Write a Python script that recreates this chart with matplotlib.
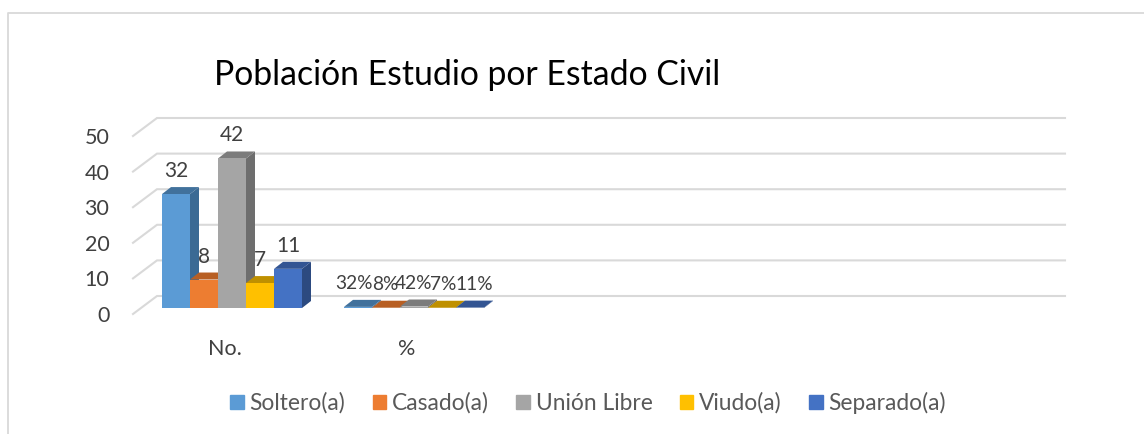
import matplotlib
matplotlib.use("Agg")
import matplotlib.pyplot as plt
from matplotlib.lines import Line2D
from matplotlib.patches import Polygon, Patch

plt.rcParams['font.family'] = ['Lato', 'DejaVu Sans']

groups = ["No.", "%"]
series = ["Soltero(a)", "Casado(a)", "Unión Libre", "Viudo(a)", "Separado(a)"]
no_values = [32, 8, 42, 7, 11]
pct_values = [0.32, 0.08, 0.42, 0.07, 0.11]
pct_labels = ["32%", "8%", "42%", "7%", "11%"]
yticks = [0, 10, 20, 30, 40, 50]
title = "Población Estudio por Estado Civil"

front = ["#5B9BD5", "#ED7D31", "#A5A5A5", "#FFC000", "#4472C4"]
top = ["#41719C", "#B85F23", "#7C7C7C", "#BF9000", "#335593"]
side = ["#3B6A94", "#A85620", "#6E6E6E", "#B08600", "#2C4A80"]

W, H = 1144, 434
fig = plt.figure(figsize=(W / 100, H / 100), dpi=100, facecolor="white")
L, R, T, B = 133, 1065, 136, 314
ax = fig.add_axes([L / W, (H - B) / H, (R - L) / W, (B - T) / H])
PXX, PXY = 182.0, (B - T) / 50.0
ax.set_xlim((L - 225) / PXX, (R - 225) / PXX)
ax.set_ylim(0, 50)
for s in ax.spines.values():
    s.set_visible(False)
ax.patch.set_alpha(0)

# outer frame
fig.add_artist(Line2D([7.5 / W, 7.5 / W, 1], [0, 1 - 13 / H, 1 - 13 / H], color="#D9D9D9", lw=1.3))

# 3D wall gridlines
gdx, gdy = 24 / PXX, 18 / PXY
x0 = ax.get_xlim()[0]
x1 = ax.get_xlim()[1]
for v in yticks:
    ax.plot([x0, x0 + gdx, x1], [v, v + gdy, v + gdy], color="#D9D9D9", lw=1.5, clip_on=False,
            solid_joinstyle="miter", zorder=1)

# bars
bw = 28 / PXX
ddx, ddy = 9 / PXX, 7 / PXY
shift_x = 7 / PXX
base = 6 / PXY


def draw_group(center, values, labels, fontsize, nudge):
    for i, v in enumerate(values):
        xl = center + shift_x + (i - 2.5) * bw
        xr = xl + bw
        yt = base + v
        ax.add_patch(Polygon([(xr, base), (xr + ddx, base + ddy), (xr + ddx, yt + ddy), (xr, yt)],
                             closed=True, fc=side[i], ec="none", zorder=3 + i, clip_on=False))
        ax.add_patch(Polygon([(xl, yt), (xl + ddx, yt + ddy), (xr + ddx, yt + ddy), (xr, yt)],
                             closed=True, fc=top[i], ec="none", zorder=3 + i, clip_on=False))
        ax.bar(xl, v, width=bw, bottom=base, align="edge", color=front[i], zorder=3 + i, clip_on=False)
        ax.text(xl + bw / 2 + nudge[i] / PXX, yt + 23 / PXY, labels[i], ha="center", va="center",
                fontsize=fontsize, color="#404040", zorder=10, clip_on=False)


draw_group(0, no_values, [str(v) for v in no_values], 15, (0, 0, 0, 0, 0))
draw_group(1, pct_values, pct_labels, 13.8, (-4, -1, 0, 1, 4))

ax.set_xticks(range(len(groups)))
ax.set_xticklabels(groups)
ax.set_yticks(yticks)
ax.tick_params(axis="both", length=0, labelsize=15.5, labelcolor="#404040")
ax.tick_params(axis="y", pad=17)
ax.tick_params(axis="x", pad=18)
ax.grid(False)

ax.set_title(title, x=(467 - L) / (R - L), y=1.0, pad=37, fontsize=24.3, color="black")

handles = [Patch(color=c, label=s) for c, s in zip(front, series)]
fig.legend(handles=handles, loc="center", bbox_to_anchor=(588 / W, 1 - 403 / H), ncol=5,
           frameon=False, fontsize=16.4, labelcolor="#595959", handlelength=0.6, handleheight=0.57,
           handletextpad=0.25, columnspacing=1.2)

fig.savefig("out.png", dpi=100, facecolor="white")
